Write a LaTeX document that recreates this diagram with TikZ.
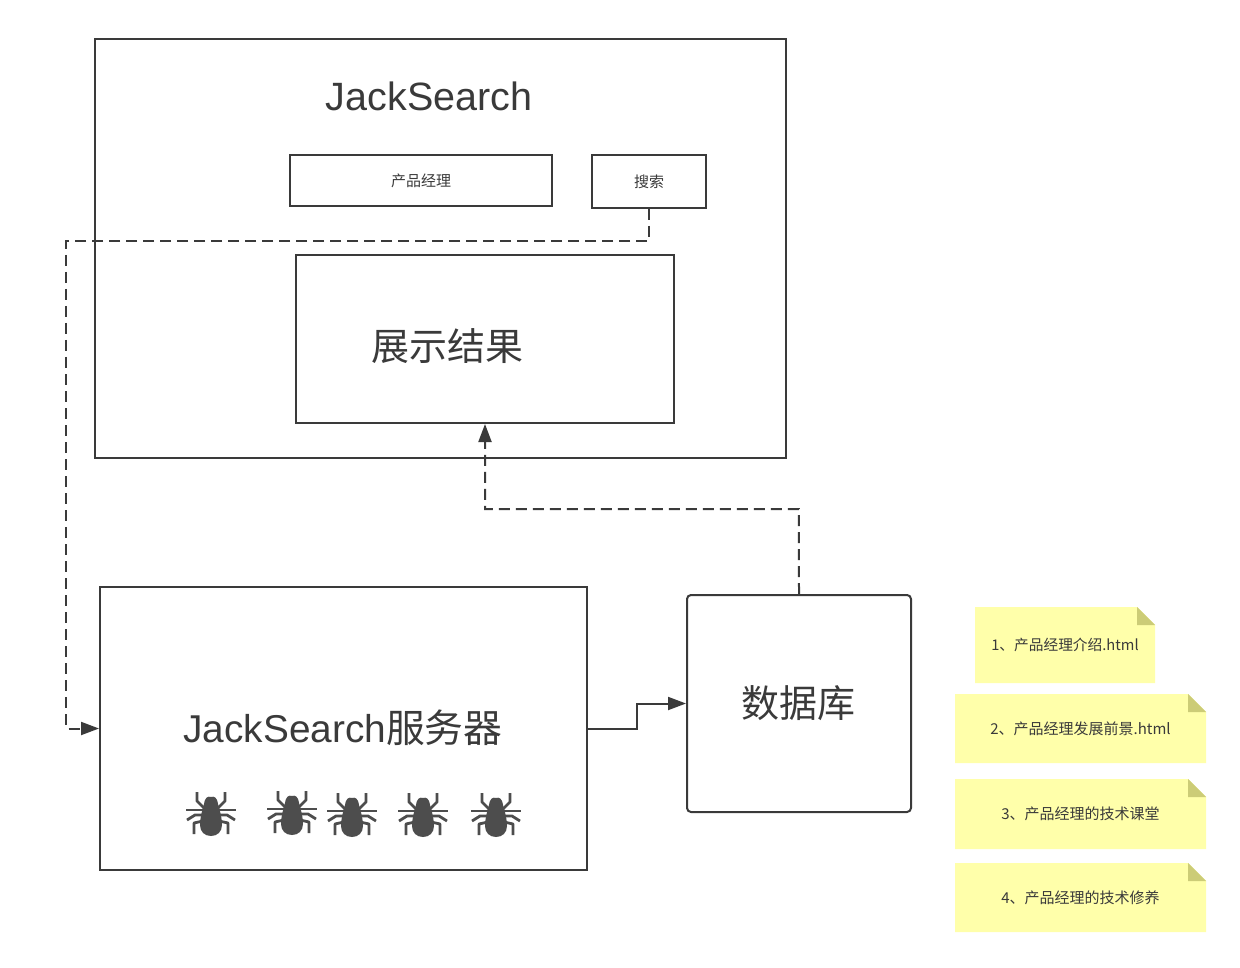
\documentclass[tikz,border=0pt]{standalone}
\usepackage{fontspec}
\setmainfont{Liberation Sans}
\newfontfamily\cjk{Noto Sans CJK SC}
\usetikzlibrary{arrows.meta}
\definecolor{ink}{HTML}{3A3A3A}
\definecolor{bug}{HTML}{4D4D4D}
\definecolor{notefill}{HTML}{FFFFAA}
\definecolor{notefold}{HTML}{CCCC77}
\tikzset{
  boxline/.style={draw=ink,line width=2pt},
  txt/.style={text=ink,inner sep=0pt,font=\cjk},
  link/.style={draw=ink,line width=2pt,-{Triangle[length=18pt,width=13pt]}},
  dlink/.style={link,dash pattern=on 11pt off 6pt},
  leg/.style={draw=bug,line width=2.8pt,line join=round,line cap=butt},
  notetext/.style={txt,font=\cjk\fontsize{15}{17}\selectfont},
}
\newcommand{\spider}[2]{%
  \begin{scope}[shift={(#1,#2)}]
    \foreach \s in {-1,1}{
      \draw[leg] (\s*7,-9) -- (\s*14,-16) -- (\s*14,-25);
      \draw[leg] (\s*8,-7) -- (\s*25,-7);
      \draw[leg] (\s*8,-2) -- (\s*16,-2) -- (\s*24,3);
      \draw[leg] (\s*8,4) -- (\s*17,6) -- (\s*17,17);
    }
    \fill[bug] (0,-20) .. controls (-3,-21) and (-6,-20) .. (-7,-13)
      .. controls (-9,-7) and (-11,2) .. (-11,8)
      .. controls (-11,15) and (-6,19) .. (0,19)
      .. controls (6,19) and (11,15) .. (11,8)
      .. controls (11,2) and (9,-7) .. (7,-13)
      .. controls (6,-20) and (3,-21) .. (0,-20) -- cycle;
  \end{scope}}
\newcommand{\stickynote}[6]{% name, x0,y0,x1,y1, text
  \fill[notefill] (#2,#3) -- (#4-18,#3) -- (#4,#3+18) -- (#4,#5) -- (#2,#5) -- cycle;
  \fill[notefold] (#4-18,#3) -- (#4,#3+18) -- (#4-18,#3+18) -- cycle;
  \node[notetext] (#1) at ({(#2+#4)/2},{(#3+#5)/2}) {#6};}
\begin{document}
\begin{tikzpicture}[x=1pt,y=-1pt]
\useasboundingbox (0,0) rectangle (1240,968);
\fill[white] (0,0) rectangle (1240,968);
% boxes
\node[boxline,minimum width=691pt,minimum height=419pt,inner sep=0pt] (page) at (440.5,248.5) {};
\node[boxline,minimum width=262pt,minimum height=51pt,inner sep=0pt,txt,font=\cjk\fontsize{15}{17}\selectfont] (input) at (421,180.5) {产品经理};
\node[boxline,minimum width=114pt,minimum height=53pt,inner sep=0pt,txt,font=\cjk\fontsize{15}{17}\selectfont] (search) at (649,181.5) {搜索};
\node[boxline,minimum width=378pt,minimum height=168pt,inner sep=0pt] (result) at (485,339) {};
\node[boxline,minimum width=487pt,minimum height=283pt,inner sep=0pt] (server) at (343.5,728.5) {};
\node[boxline,minimum width=224pt,minimum height=217pt,inner sep=0pt,rounded corners=4pt] (db) at (799,703.5) {};
% titles
\node[txt,font=\fontsize{39.5}{44}\selectfont] (title) at (429,96) {JackSearch};
\node[txt,font=\cjk\fontsize{38}{44}\selectfont] (resulttext) at (447,346.5) {展示结果};
\node[txt,font=\cjk\fontsize{38.8}{44}\selectfont] (servertext) at (343,728) {{\fontspec{Liberation Sans}JackSearch}服务器};
\node[txt,font=\cjk\fontsize{38}{44}\selectfont] (dbtext) at (798.5,703) {数据库};
% spiders
\spider{211}{817}
\spider{292}{816}
\spider{352}{818}
\spider{423}{818}
\spider{496}{818}
% connectors
\coordinate (leftrail) at (66,241);
\coordinate (leftfoot) at (66,728.5);
\draw[dlink] (search.south) |- (leftrail) -- (leftfoot) -- (server.west);
\coordinate (riser) at (798.9,509);
\draw[dlink] (db.north) -- (riser) -| (result.south);
\coordinate (jog) at (637,729);
\coordinate (jogtop) at (637,703.5);
\draw[link] (server.east |- jog) -- (jog) -- (jogtop) -- (db.west);
% notes
\stickynote{n1}{975}{607}{1155}{683}{\fontsize{14.7}{17}\selectfont 1、产品经理介绍.html}
\stickynote{n2}{955}{694}{1206}{763}{2、产品经理发展前景.html}
\stickynote{n3}{955}{779}{1206}{849}{3、产品经理的技术课堂}
\stickynote{n4}{955}{863}{1206}{932}{4、产品经理的技术修养}
\end{tikzpicture}
\end{document}
